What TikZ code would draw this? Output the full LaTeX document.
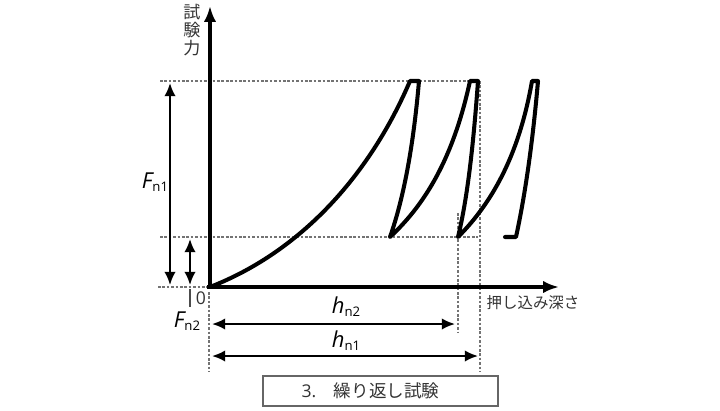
\documentclass[tikz,border=0pt]{standalone}
\usepackage{fontspec}
\setmainfont{Noto Sans CJK JP}
\newfontfamily\latinfont{Open Sans}
\usetikzlibrary{arrows.meta}

\newcommand{\symlab}[2]{{\latinfont\fontsize{12.5}{12.5}\selectfont\itshape #1}\raisebox{-0.3ex}{\latinfont\fontsize{7.5}{7.5}\selectfont #2}}

\begin{document}
\begin{tikzpicture}[x=0.02cm, y=-0.02cm,
    curve/.style={line width=2.3pt, line join=round, line cap=round},
    axis/.style={line width=2.3pt, -{Latex[length=9pt, width=7pt]}},
    guide/.style={black!55, line width=0.6pt, dash pattern=on 1.5pt off 1pt},
    dimline/.style={line width=1.2pt, {Latex[length=7.5pt, width=6.5pt]}-{Latex[length=7.5pt, width=6.5pt]}},
    jtext/.style={text=black!80, inner sep=0pt}]
    \useasboundingbox (0,0) rectangle (720,410);

    % Reference points
    \coordinate (O) at (210,287);
    \coordinate (ytop) at (210,6);
    \coordinate (xend) at (559,287);

    % Guide lines
    \draw[guide] (160,81) -- (480,81);
    \draw[guide] (160,237) -- (478,237);
    \draw[guide] (158,287) -- (O);
    \draw[guide] (480,81) -- (480,372);
    \draw[guide] (458,213) -- (458,333);
    \draw[guide] (209,292) -- (209,372);

    % Axes
    \draw[axis] (O) -- (ytop);
    \draw[axis] (207,287) -- (xend);
    \node[jtext, align=center, font=\fontsize{9.7}{10.2}\selectfont] (ylabel) at (192,30) {試\\験\\力};
    \node[jtext, font=\fontsize{8.8}{9}\selectfont] (xlabel) at (533,303) {押し込み深さ};
    \node[jtext, font=\latinfont\fontsize{10}{10}\selectfont] (zero) at (201,298) {0};
    \draw[line width=0.7pt, black!70] (190,289) -- (190,307);

    % Load-unload cycles
    \draw[curve] (O) .. controls (305,250) and (372,170) .. (410,81) -- (419,81)
        .. controls (413,150) and (403,200) .. (390,237)
        .. controls (430,200) and (455,150) .. (470,81) -- (478,81)
        .. controls (473,150) and (467,200) .. (458,237)
        .. controls (495,200) and (520,150) .. (532,81) -- (538,81)
        .. controls (532,150) and (524,200) .. (516,237) -- (505,237);

    % Force arrows
    \coordinate (f1top) at (170,83);
    \coordinate (f1bot) at (170,285);
    \coordinate (f2top) at (190,239);
    \coordinate (f2bot) at (190,285);
    \draw[dimline] (f1top) -- (f1bot);
    \draw[dimline] (f2top) -- (f2bot);
    \node[inner sep=0pt] (fn1) at (155,182) {\symlab{F}{n1}};
    \node[inner sep=0pt] (fn2) at (187,321) {\symlab{F}{n2}};

    % Depth arrows
    \coordinate (h2left) at (212,324);
    \coordinate (h2right) at (455,324);
    \coordinate (h1left) at (212,356);
    \coordinate (h1right) at (478,356);
    \draw[dimline] (h2left) -- (h2right);
    \draw[dimline] (h1left) -- (h1right);
    \node[inner sep=0pt] (hn2) at (346,307) {\symlab{h}{n2}};
    \node[inner sep=0pt] (hn1) at (346,341) {\symlab{h}{n1}};

    % Caption
    \node[draw=black!60, line width=0.6pt, text=black!80, minimum width=4.7cm, minimum height=0.6cm,
        font=\fontsize{10}{10}\selectfont] (title) at (380.5,391) {{\latinfont 3.}\quad 繰り返し試験\hspace*{0.4cm}};
\end{tikzpicture}
\end{document}
